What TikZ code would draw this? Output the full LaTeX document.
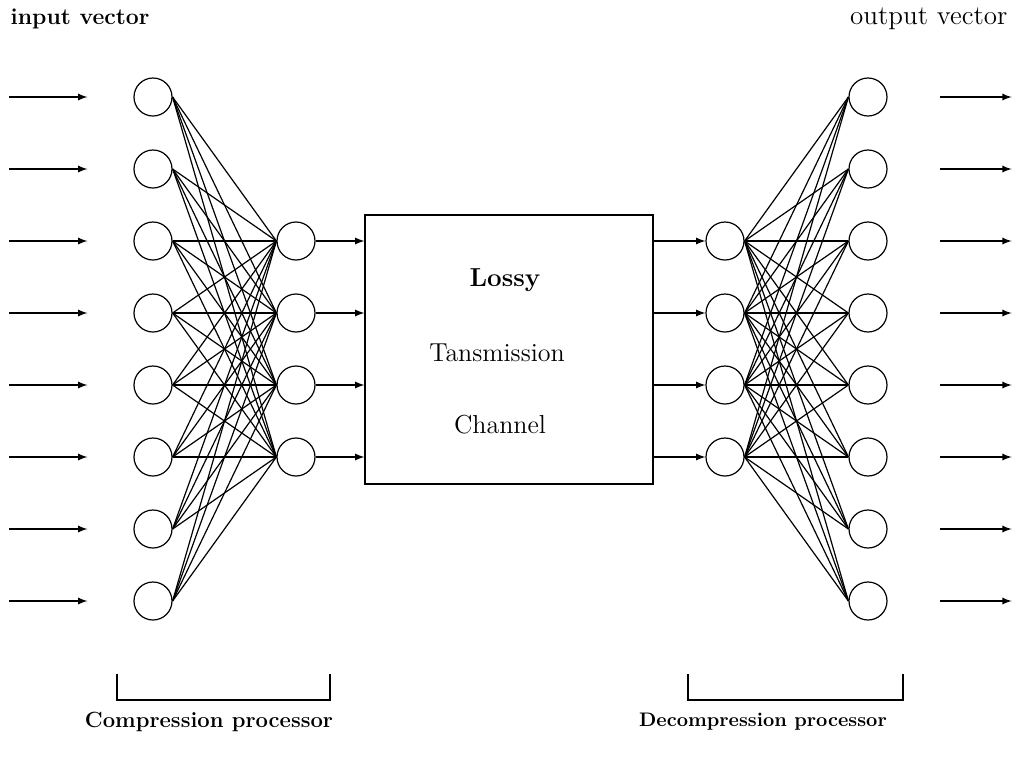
\documentclass[tikz,border=0pt]{standalone}
\usepackage{tikz}
\usetikzlibrary{arrows,positioning}

\begin{document}
\begin{tikzpicture}[x=0.5pt,y=-0.5pt,
            neuron/.style={draw,circle,minimum size=19pt,inner sep=0pt,node distance=36pt},
            lab/.style={font=\fontsize{11}{13}\selectfont\bfseries},
            chan/.style={font=\fontsize{13}{15}\selectfont},
            every path/.style={line width=0.6pt,>=latex}
          ]
          \useasboundingbox (0,0) rectangle (1014,762);

          %input layer
          \node[neuron] (i1) at (153,97) {};
          \foreach \i [remember=\i as \j (initially 1)] in {2,...,8}
            \node[below of = i\j,neuron] (i\i) {};

          %compression layer
          \node[neuron] (h1) at (296,241) {};
          \foreach \i [remember=\i as \j (initially 1)] in {2,...,4}
            \node[below of = h\j,neuron] (h\i) {};

          %channel
          \node[draw,rectangle,minimum width=144pt,minimum height=134.5pt] (box) at (509,349.5) {};
          \node[chan,font=\fontsize{13}{15}\selectfont\bfseries] (l1) at (505,280) {Lossy};
          \node[chan] (l2) at (497,353) {Tansmission};
          \node[chan] (l3) at (500,425) {Channel};

          %decompression layer
          \node[neuron] (d1) at (725,241) {};
          \foreach \i [remember=\i as \j (initially 1)] in {2,...,4}
            \node[below of = d\j,neuron] (d\i) {};

          %output layer
          \node[neuron] (o1) at (868,97) {};
          \foreach \i [remember=\i as \j (initially 1)] in {2,...,8}
            \node[below of = o\j,neuron] (o\i) {};

          %weights
          \foreach \i in {1,...,8}
            \foreach \j in {1,...,4} {
              \draw (i\i.east) -- (h\j.west);
              \draw (d\j.east) -- (o\i.west);
            }

          %vectors in and out
          \foreach \i in {1,...,8} {
            \coordinate (a\i) at ([xshift=-62pt]i\i.west);
            \coordinate (b\i) at ([xshift=-23pt]i\i.west);
            \coordinate (c\i) at ([xshift=26pt]o\i.east);
            \coordinate (e\i) at ([xshift=62pt]o\i.east);
            \draw[->] (a\i) -- (b\i);
            \draw[->] (c\i) -- (e\i);
          }
          \foreach \j in {1,...,4} {
            \draw[->] (h\j.east) -- (h\j.east -| box.west);
            \draw[->] (d\j.west -| box.east) -- (d\j.west);
          }

          %labels
          \node[lab,font=\fontsize{11.5}{13}\selectfont\bfseries,anchor=west,inner sep=0pt] (iv) at (10,19) {input vector};
          \node[font=\fontsize{13.5}{15}\selectfont,anchor=east,inner sep=0pt] (ov) at (1008,19) {output vector};
          \node[lab] (cp) at (209,722) {Compression processor};
          \node[lab,font=\fontsize{9.8}{12}\selectfont\bfseries] (dp) at (763,722) {Decompression processor};

          %brackets
          \draw (117,674) -- (117,700) -- (330,700) -- (330,674);
          \draw (688,674) -- (688,700) -- (903,700) -- (903,674);

      \end{tikzpicture}
\end{document}
